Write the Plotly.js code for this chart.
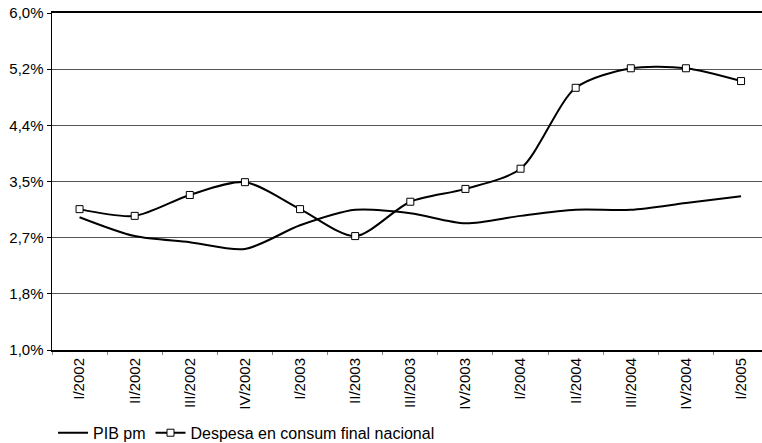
<!DOCTYPE html>
<html><head><meta charset="utf-8">
<script src="https://cdn.plot.ly/plotly-3.0.1.min.js"></script>
<style>body{margin:0;background:#fff}#c{width:762px;height:443px}</style>
</head><body><div id="c"></div>
<script>
const categories = ["I/2002","II/2002","III/2002","IV/2002","I/2003","II/2003","III/2003","IV/2003","I/2004","II/2004","III/2004","IV/2004","I/2005"];
const pibPm = [2.97,2.69,2.60,2.50,2.85,3.08,3.03,2.88,2.99,3.08,3.08,3.18,3.28];
const despesa = [3.09,2.99,3.30,3.49,3.09,2.69,3.20,3.39,3.69,4.89,5.18,5.18,4.99];
const yTickVals = [1.0,1.8333,2.6667,3.5,4.3333,5.1667,6.0];
const yTickText = ["1,0%","1,8%","2,7%","3,5%","4,4%","5,2%","6,0%"];

const traces = [
  {x: categories, y: pibPm, name: "PIB pm", type: "scatter", mode: "lines",
   line: {color: "#000", width: 2, shape: "spline", smoothing: 0.8}},
  {x: categories, y: despesa, name: "Despesa en consum final nacional", type: "scatter", mode: "lines+markers",
   line: {color: "#000", width: 2, shape: "spline", smoothing: 0.8},
   marker: {symbol: "square", size: 7, color: "#fff", line: {color: "#000", width: 1}}}
];
const layout = {
  width: 762, height: 443,
  margin: {l: 52, r: 0, t: 13, b: 93},
  paper_bgcolor: "#fff", plot_bgcolor: "#fff",
  font: {family: "Liberation Sans, Arial, sans-serif", size: 15, color: "#000"},
  showlegend: true,
  legend: {orientation: "h", xref: "container", yref: "container", x: 0.0696, y: 0.023, xanchor: "left", yanchor: "middle",
           font: {size: 16}, itemwidth: 30, tracegroupgap: 0},
  xaxis: {type: "category", range: [-0.5, 12.38], tickangle: -90, showline: true, linecolor: "#000", linewidth: 2,
          mirror: true, ticks: "outside", tickson: "boundaries", ticklen: 3, tickcolor: "#888", showgrid: false,
          zeroline: false, automargin: false},
  yaxis: {range: [1, 6], tickvals: yTickVals, ticktext: yTickText, showline: true, linecolor: "#000", linewidth: 1.5,
          ticks: "outside", ticklen: 4, tickcolor: "#000", showgrid: true, gridcolor: "#555", gridwidth: 1,
          zeroline: false, automargin: false}
};
Plotly.newPlot("c", traces, layout, {staticPlot: true, displayModeBar: false});
</script></body></html>
